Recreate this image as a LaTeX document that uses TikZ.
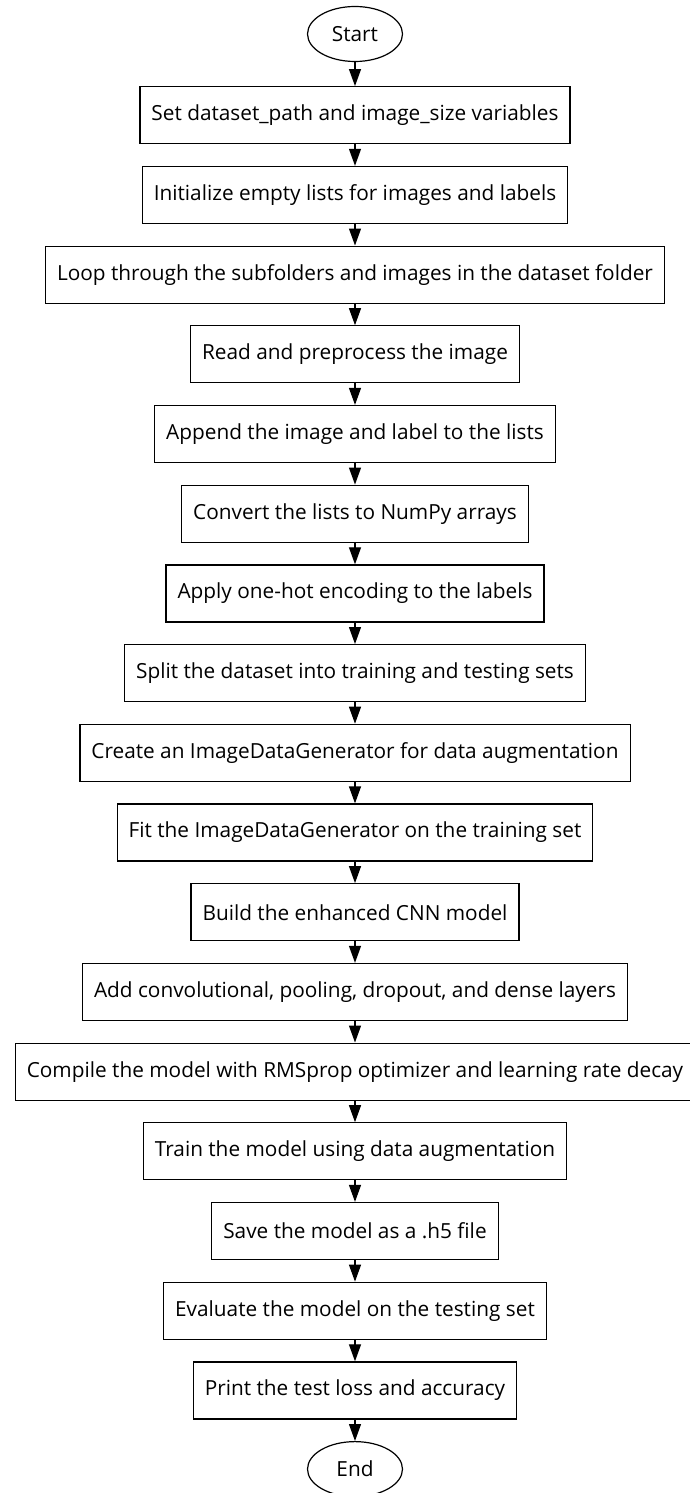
\documentclass[tikz,border=0pt]{standalone}
\usepackage{fontspec}
\setmainfont{Open Sans}
\usetikzlibrary{positioning,shapes.geometric,arrows.meta}

\begin{document}
\begin{tikzpicture}[
    node distance=21.5pt,
    every node/.style={font=\fontsize{20.8pt}{25pt}\selectfont},
    stepbox/.style={draw, line width=1.2pt, minimum height=57pt, inner xsep=11.5pt},
    terminal/.style={draw, ellipse, line width=1.2pt, minimum width=95pt, minimum height=55pt, inner sep=0pt},
    flow/.style={line width=1.2pt, -{Triangle[length=17pt,width=12pt]}}
    ]
    \useasboundingbox (-355pt,34pt) rectangle (334pt,-1459pt);
    \node[terminal] (start) at (0,0) {Start};
    \node[stepbox, below=24pt of start] (setvars) {Set dataset\_path and image\_size variables};
    \node[stepbox, below=of setvars] (initlists) {Initialize empty lists for images and labels};
    \node[stepbox, below=of initlists] (loopdirs) {Loop through the subfolders and images in the dataset folder};
    \node[stepbox, below=of loopdirs] (readimg) {Read and preprocess the image};
    \node[stepbox, below=of readimg] (append) {Append the image and label to the lists};
    \node[stepbox, below=of append] (convert) {Convert the lists to NumPy arrays};
    \node[stepbox, below=of convert] (onehot) {Apply one-hot encoding to the labels};
    \node[stepbox, below=of onehot] (split) {Split the dataset into training and testing sets};
    \node[stepbox, below=of split] (creategen) {Create an ImageDataGenerator for data augmentation};
    \node[stepbox, below=of creategen] (fitgen) {Fit the ImageDataGenerator on the training set};
    \node[stepbox, below=of fitgen] (build) {Build the enhanced CNN model};
    \node[stepbox, below=of build] (addlayers) {Add convolutional, pooling, dropout, and dense layers};
    \node[stepbox, below=of addlayers] (compile) {Compile the model with RMSprop optimizer and learning rate decay};
    \node[stepbox, below=of compile] (train) {Train the model using data augmentation};
    \node[stepbox, below=of train] (save) {Save the model as a .h5 file};
    \node[stepbox, below=of save] (evaluate) {Evaluate the model on the testing set};
    \node[stepbox, below=of evaluate] (print) {Print the test loss and accuracy};
    \node[terminal, below=of print] (stop) {End};
    % connectors
    \foreach \a/\b in {start/setvars, setvars/initlists, initlists/loopdirs, loopdirs/readimg,
        readimg/append, append/convert, convert/onehot, onehot/split, split/creategen,
        creategen/fitgen, fitgen/build, build/addlayers, addlayers/compile, compile/train,
        train/save, save/evaluate, evaluate/print, print/stop}
        \draw[flow] (\a) -- (\b);
\end{tikzpicture}
\end{document}
